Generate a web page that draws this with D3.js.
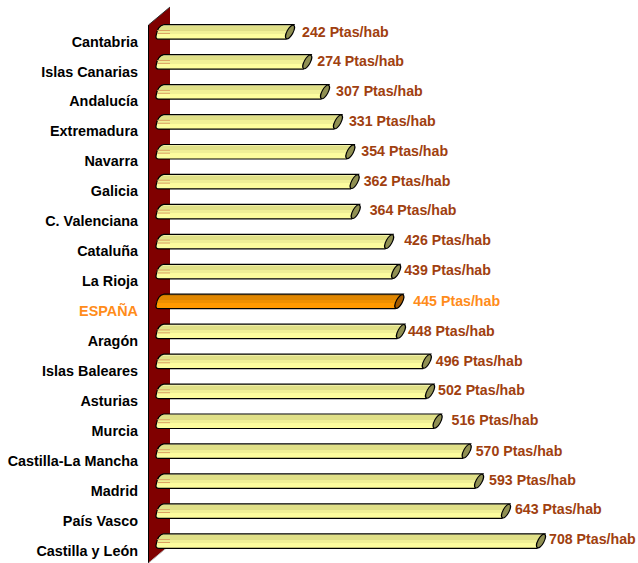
<!DOCTYPE html>
<html>
<head>
<meta charset="utf-8">
<script src="https://cdn.jsdelivr.net/npm/d3@7"></script>
<style>
body { margin: 0; background: #fff; }
text { font-family: "Liberation Sans", Arial, sans-serif; font-weight: bold; }
</style>
</head>
<body>
<div id="chart"></div>
<script>
const width = 638, height = 563;

const regions = ["Cantabria", "Islas Canarias", "Andalucía", "Extremadura", "Navarra", "Galicia",
    "C. Valenciana", "Cataluña", "La Rioja", "ESPAÑA", "Aragón", "Islas Baleares", "Asturias",
    "Murcia", "Castilla-La Mancha", "Madrid", "País Vasco", "Castilla y León"];
const values = [242, 274, 307, 331, 354, 362, 364, 426, 439, 445, 448, 496, 502, 516, 570, 593, 643, 708];
const unit = "Ptas/hab";
const highlight = "ESPAÑA";

// the original labels sit at uneven distances from the bar ends
const labelGap = [7, 5, 6, 6, 6, 4, 9, 10, 3, 9, 2, 4, 3, 9, 4, 5, 4, 3];
const labelRise = [0, 0, 0, 0, 0, 0, 1, 1, 1, 0, 0, 0, 1, 1, 0, 1, 2, 2];

const depth = 8;      // slant of the bar ends
const barHeight = 14.5;

let svg = d3.select("#chart")
    .append("svg")
    .attr("width", width)
    .attr("height", height);

// x is read at the top (back) edge of the bar
let x = d3.scaleLinear().domain([0, 708]).range([164.7, 546]);
let y = d3.scaleBand().domain(regions).range([17, 556]);

function gradient(id, stops) {
    let g = svg.append("defs").append("linearGradient")
        .attr("id", id)
        .attr("x1", 0).attr("y1", 0).attr("x2", 0).attr("y2", 1);
    stops.forEach(function (s) {
        g.append("stop").attr("offset", s[0]).attr("stop-color", s[1]);
    });
}

// hard-edged bands, as in the stepped shading of the original tubes
gradient("barNormal", [[0, "#f0f0a8"], [0.1, "#f0f0a8"], [0.1, "#e0e088"], [0.4, "#e0e088"], [0.4, "#f0f096"], [0.62, "#f0f096"], [0.62, "#fdfd9e"], [1, "#fdfd9e"]]);
gradient("barSpain", [[0, "#c87a00"], [0.1, "#c87a00"], [0.1, "#e08600"], [0.4, "#e08600"], [0.4, "#ee8f00"], [0.62, "#ee8f00"], [0.62, "#ff9900"], [1, "#ff9900"]]);

// back wall
svg.append("polygon")
    .attr("points", "148.5,25 170,7 170,545 148.5,563")
    .attr("fill", "#800000");
svg.append("line")
    .attr("x1", 148.5).attr("y1", 25).attr("x2", 148.5).attr("y2", 563)
    .attr("stroke", "#000");
svg.append("line")
    .attr("x1", 148.5).attr("y1", 25).attr("x2", 170).attr("y2", 7)
    .attr("stroke", "#333");
svg.append("line")
    .attr("x1", 148.5).attr("y1", 563).attr("x2", 170).attr("y2", 545)
    .attr("stroke", "#bbb");

// category labels
let yAxis = svg.append("g")
    .attr("transform", "translate(138,0)")
    .call(d3.axisLeft(y).tickSize(0).tickPadding(0));
yAxis.select(".domain").remove();
yAxis.selectAll("text")
    .attr("y", 10)
    .style("font-size", "14.4px")
    .style("font-family", '"Liberation Sans", Arial, sans-serif')
    .attr("fill", function (d) { return d === highlight ? "#ff8c1a" : "#000"; });

let bars = svg.selectAll("g.bar")
    .data(regions)
    .enter().append("g")
    .attr("class", "bar");

function barTop(d) { return y(d) + y.bandwidth() / 2 - barHeight / 2; }

// tube body with a rounded start
bars.append("path")
    .attr("d", function (d, i) {
        let t = barTop(d), b = t + barHeight, xr = x(values[i]) - 1;
        return `M${x(0) - 1},${t} L${xr},${t} L${xr - depth},${b} L${x(0) - 6},${b}`
            + ` Q${x(0) - 9.5},${b} ${x(0) - 8.5},${b - 4} Q${x(0) - 7},${t + 1} ${x(0) - 1},${t} Z`;
    })
    .attr("fill", function (d) { return d === highlight ? "url(#barSpain)" : "url(#barNormal)"; })
    .attr("stroke", "#000")
    .attr("stroke-width", 1.2);

// orange-ish stripes on the part in front of the wall
bars.filter(function (d) { return d !== highlight; })
    .selectAll("line")
    .data(function (d) { return [[d, 0.4], [d, 0.6]]; })
    .enter().append("line")
    .attr("x1", x(0) - 7.5)
    .attr("x2", 170)
    .attr("y1", function (p) { return barTop(p[0]) + barHeight * p[1]; })
    .attr("y2", function (p) { return barTop(p[0]) + barHeight * p[1]; })
    .attr("stroke", "#d9a060")
    .attr("stroke-width", 1);

// end cap
bars.append("ellipse")
    .attr("rx", 3)
    .attr("ry", 7.6)
    .attr("transform", function (d, i) {
        return `translate(${x(values[i]) - 1 - depth / 2},${barTop(d) + barHeight / 2}) rotate(28)`;
    })
    .attr("fill", function (d) { return d === highlight ? "#a35a00" : "#8f8f52"; })
    .attr("stroke", "#000")
    .attr("stroke-width", 1.1);

// value labels
bars.append("text")
    .attr("x", function (d, i) { return x(values[i]) + labelGap[i]; })
    .attr("y", function (d, i) { return barTop(d) + barHeight / 2 - labelRise[i]; })
    .attr("dy", "0.32em")
    .style("font-size", "14.2px")
    .attr("fill", function (d) { return d === highlight ? "#ff8c1a" : "#a0400f"; })
    .text(function (d, i) { return `${values[i]} ${unit}`; });
</script>
</body>
</html>
